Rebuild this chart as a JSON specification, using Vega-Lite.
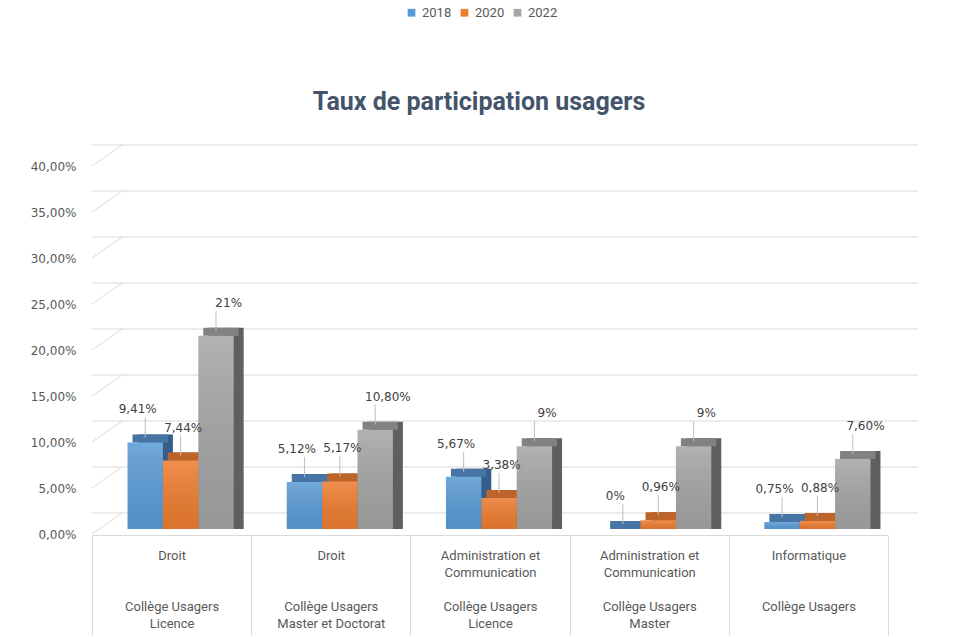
{
  "$schema": "https://vega.github.io/schema/vega-lite/v6.json",
  "width": 796,
  "height": 368,
  "autosize": {"type": "none"},
  "padding": {"left": 92, "top": 161, "right": 72, "bottom": 108},
  "background": "white",
  "config": {
    "view": {"stroke": null}
  },
  "title": {
    "text": "Taux de participation usagers",
    "font": "Roboto",
    "fontSize": 25,
    "fontWeight": "bold",
    "color": "#44546A",
    "anchor": "middle",
    "frame": "group",
    "offset": -129,
    "dx": -11,
    "baseline": "alphabetic"
  },
  "datasets": {
    "bars": [
      {"cat": "Droit|||Collège Usagers|Licence", "year": "2018", "v": 0.0941, "label": "9,41%"},
      {"cat": "Droit|||Collège Usagers|Licence", "year": "2020", "v": 0.0744, "label": "7,44%"},
      {"cat": "Droit|||Collège Usagers|Licence", "year": "2022", "v": 0.21, "label": "21%"},
      {"cat": "Droit|||Collège Usagers|Master et Doctorat", "year": "2018", "v": 0.0512, "label": "5,12%"},
      {"cat": "Droit|||Collège Usagers|Master et Doctorat", "year": "2020", "v": 0.0517, "label": "5,17%"},
      {"cat": "Droit|||Collège Usagers|Master et Doctorat", "year": "2022", "v": 0.108, "label": "10,80%"},
      {"cat": "Administration et|Communication||Collège Usagers|Licence", "year": "2018", "v": 0.0567, "label": "5,67%"},
      {"cat": "Administration et|Communication||Collège Usagers|Licence", "year": "2020", "v": 0.0338, "label": "3,38%"},
      {"cat": "Administration et|Communication||Collège Usagers|Licence", "year": "2022", "v": 0.09, "label": "9%"},
      {"cat": "Administration et|Communication||Collège Usagers|Master", "year": "2018", "v": 0, "label": "0%"},
      {"cat": "Administration et|Communication||Collège Usagers|Master", "year": "2020", "v": 0.0096, "label": "0,96%"},
      {"cat": "Administration et|Communication||Collège Usagers|Master", "year": "2022", "v": 0.09, "label": "9%"},
      {"cat": "Informatique|||Collège Usagers|", "year": "2018", "v": 0.0075, "label": "0,75%"},
      {"cat": "Informatique|||Collège Usagers|", "year": "2020", "v": 0.0088, "label": "0,88%"},
      {"cat": "Informatique|||Collège Usagers|", "year": "2022", "v": 0.076, "label": "7,60%"}
    ],
    "grid": [
      {"g": 0}, {"g": 0.05}, {"g": 0.1}, {"g": 0.15}, {"g": 0.2},
      {"g": 0.25}, {"g": 0.3}, {"g": 0.35}, {"g": 0.4}
    ]
  },
  "encoding": {
    "y": {
      "type": "quantitative",
      "scale": {"domain": [0, 0.4], "nice": false},
      "axis": {
        "title": null,
        "orient": "left",
        "domainOpacity": 0,
        "tickOpacity": 0,
        "tickSize": 0,
        "grid": false,
        "tickCount": 8,
        "labelExpr": "replace(format(datum.value, '.2%'), '.', ',')",
        "labelPadding": 16,
        "labelBaseline": "top",
        "labelFont": "DejaVu Sans",
        "labelFontSize": 12,
        "labelColor": "#595959",
        "zindex": 2
      }
    }
  },
  "layer": [
    {
      "data": {"name": "grid"},
      "mark": {"type": "rule", "color": "#D9D9D9", "strokeWidth": 1, "xOffset": 30, "x2Offset": 30, "yOffset": -16},
      "encoding": {
        "y": {"field": "g", "type": "quantitative"}
      }
    },
    {
      "data": {"name": "grid"},
      "mark": {"type": "rule", "color": "#D9D9D9", "strokeWidth": 1, "yOffset": 5, "y2Offset": -16, "x2Offset": 30},
      "encoding": {
        "x": {"value": 0},
        "x2": {"value": 0},
        "y": {"field": "g", "type": "quantitative"},
        "y2": {"field": "g"}
      }
    },
    {
      "data": {"name": "bars"},
      "encoding": {
        "x": {
          "field": "cat",
          "type": "nominal",
          "sort": null,
          "scale": {"paddingInner": 0, "paddingOuter": 0},
          "axis": {
            "title": null,
            "orient": "bottom",
            "offset": 6,
            "domainColor": "#D9D9D9",
            "tickColor": "#D9D9D9",
            "tickSize": 100,
            "tickBand": "extent",
            "labelAngle": 0,
            "labelExpr": "datum.value ? split(replace(replace(datum.value, '||', '|\u200b|'), '||', '|\u200b|'), '|') : ''",
            "labelPadding": -86,
            "labelBaseline": "top",
            "labelLineHeight": 17,
            "labelFont": "Roboto",
            "labelFontSize": 13,
            "labelColor": "#595959",
            "labelLimit": 300,
            "labelOverlap": false
          }
        },
        "y": {"field": "v", "type": "quantitative", "stack": null}
      },
      "layer": [
        {
          "mark": {"type": "bar", "yOffset": -8, "y2Offset": -8},
          "encoding": {
            "xOffset": {"field": "year", "type": "nominal", "sort": null, "scale": {"paddingInner": 0, "paddingOuter": 0.75, "align": 0.858}},
            "color": {"field": "year", "type": "nominal", "scale": {"range": ["#355F8A", "#A9521C", "#5F5F5F"]}, "legend": null}
          }
        },
        {
          "mark": {"type": "bar", "yOffset": -8, "y2Offset": 0},
          "encoding": {
            "xOffset": {"field": "year", "type": "nominal", "sort": null, "scale": {"paddingInner": 0, "paddingOuter": 0.75, "align": 0.764}},
            "y2": {"field": "v"},
            "color": {"field": "year", "type": "nominal", "scale": {"range": ["#4674A4", "#BD642B", "#828282"]}, "legend": null}
          }
        },
        {
          "mark": {"type": "bar"},
          "encoding": {
            "xOffset": {"field": "year", "type": "nominal", "sort": null, "scale": {"paddingInner": 0, "paddingOuter": 0.75, "align": 0.67}},
            "color": {
              "field": "year",
              "type": "nominal",
              "scale": {"range": ["#5B9BD5", "#ED7D31", "#A5A5A5"]},
              "legend": {
                "orient": "none",
                "legendX": 313,
                "legendY": -155,
                "direction": "horizontal",
                "title": null,
                "symbolType": "square",
                "symbolSize": 60,
                "labelFont": "Roboto",
                "labelFontSize": 13,
                "labelColor": "#595959",
                "columnPadding": 6,
                "labelOffset": 4
              }
            }
          }
        },
        {
          "mark": {
            "type": "bar",
            "color": {
              "gradient": "linear",
              "x1": 0, "y1": 0, "x2": 0, "y2": 1,
              "stops": [
                {"offset": 0, "color": "rgba(255,255,255,0.14)"},
                {"offset": 1, "color": "rgba(0,0,0,0.08)"}
              ]
            }
          },
          "encoding": {
            "xOffset": {"field": "year", "type": "nominal", "sort": null, "scale": {"paddingInner": 0, "paddingOuter": 0.75, "align": 0.67}}
          }
        },
        {
          "mark": {"type": "rule", "color": "#BFBFBF", "strokeWidth": 1, "yOffset": -5, "y2Offset": -25},
          "encoding": {
            "xOffset": {"field": "year", "type": "nominal", "sort": null, "scale": {"paddingInner": 0, "paddingOuter": 0.75, "align": 0.67}},
            "y2": {"field": "v"}
          }
        },
        {
          "mark": {"type": "text", "yOffset": -33, "baseline": "middle", "align": "center", "font": "DejaVu Sans", "fontSize": 12, "color": "#404040"},
          "encoding": {
            "xOffset": {"field": "year", "type": "nominal", "sort": null, "scale": {"paddingInner": 0, "paddingOuter": 0.75, "align": 0.67}},
            "text": {"field": "label"}
          }
        }
      ],
      "resolve": {"scale": {"color": "independent", "xOffset": "independent"}, "legend": {"color": "independent"}}
    }
  ]
}
